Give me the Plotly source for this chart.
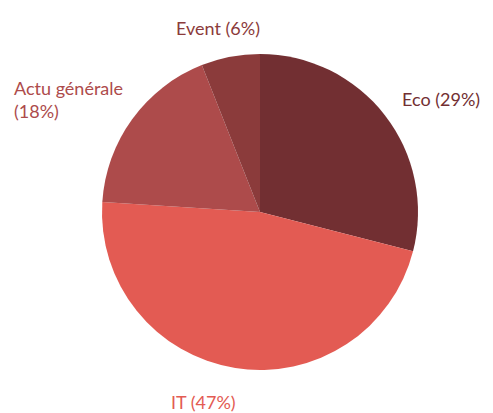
import plotly.graph_objects as go

labels = ["Eco", "IT", "Actu générale", "Event"]
values = [29, 47, 18, 6]
colors = ["#722F32", "#E35B53", "#AD4B4B", "#8B3B3B"]
label_texts = ["Eco (29%)", "IT (47%)", "Actu générale<br>(18%)", "Event (6%)"]

OFF = 8  # page body margin
W, H = 493 - OFF, 413 - OFF
cx, cy, r = 260 - OFF, 212 - OFF, 158

fig = go.Figure(go.Pie(
    labels=labels, values=values, sort=False, direction="clockwise", rotation=0,
    marker=dict(colors=colors, line=dict(width=0)),
    textinfo="none", hoverinfo="label+percent", showlegend=False,
    domain=dict(x=[(cx - r) / W, (cx + r) / W], y=[(H - (cy + r)) / H, (H - (cy - r)) / H]),
))

# label placements (screen pixels) : x, y, xanchor
place = [(400, 99, "left"), (203, 402, "center"), (12, 99, "left"), (218, 28, "center")]
for t, c, (px, py, xa) in zip(label_texts, colors, place):
    fig.add_annotation(text=t, x=(px - OFF) / W, y=1 - (py - OFF) / H, xref="paper", yref="paper",
                       xanchor=xa, yanchor="middle", align="left", showarrow=False,
                       font=dict(family="Lato", size=18, color=c))

fig.update_layout(width=W, height=H, margin=dict(l=0, r=0, t=0, b=0),
                  paper_bgcolor="white", plot_bgcolor="white")
fig.write_html("out.html")
